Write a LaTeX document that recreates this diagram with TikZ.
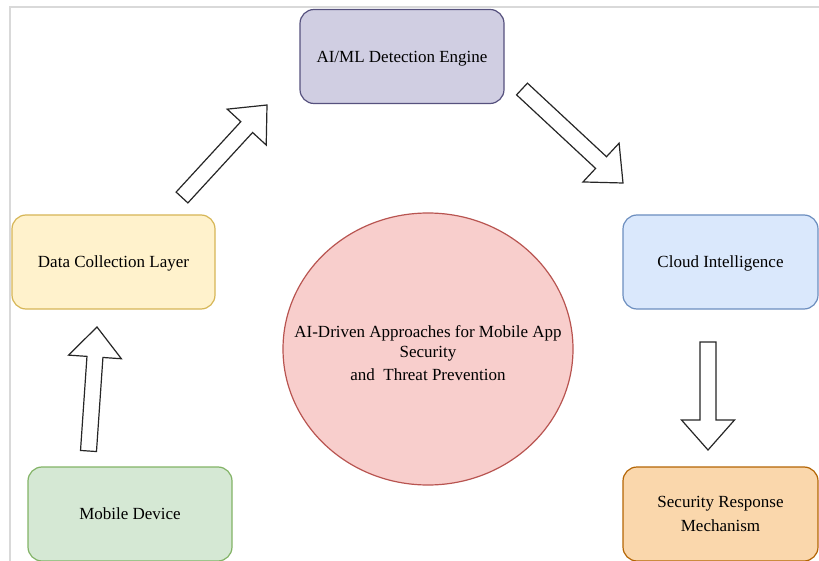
\documentclass[tikz,border=0pt]{standalone}
\usepackage{fontspec}
\setmainfont{Liberation Serif}
\usepackage{tikz}
\usetikzlibrary{calc}
\usetikzlibrary{shapes.geometric}

\definecolor{engineFill}{HTML}{D0CEE2}
\definecolor{engineDraw}{HTML}{56517E}
\definecolor{collectFill}{HTML}{FFF2CC}
\definecolor{collectDraw}{HTML}{D6B656}
\definecolor{cloudFill}{HTML}{DAE8FC}
\definecolor{cloudDraw}{HTML}{6C8EBF}
\definecolor{mobileFill}{HTML}{D5E8D4}
\definecolor{mobileDraw}{HTML}{82B366}
\definecolor{responseFill}{HTML}{FAD7AC}
\definecolor{responseDraw}{HTML}{B46504}
\definecolor{coreFill}{HTML}{F8CECC}
\definecolor{coreDraw}{HTML}{B85450}

% sizes of the hollow arrows
\def\ShaftHalf{8pt}
\def\HeadHalf{26.5pt}
\def\HeadLen{30pt}
\newcommand{\BlockArrow}[2]{%
\coordinate (hb) at ($(#2)!\HeadLen!(#1)$);
\draw[FatArrows] ($(#1)!\ShaftHalf!90:(#2)$) -- ($(hb)!\ShaftHalf!90:(#2)$)
 -- ($(hb)!\HeadHalf!90:(#2)$) -- (#2) -- ($(hb)!\HeadHalf!-90:(#2)$)
 -- ($(hb)!\ShaftHalf!-90:(#2)$) -- ($(#1)!\ShaftHalf!-90:(#2)$) -- cycle;
}

\begin{document}
\begin{tikzpicture}[
x=1pt,y=-1pt,
MyBoxes/.style={rounded corners=14pt,line width=1.2pt,minimum height=94pt,
  align=center,text depth=0pt,font=\fontsize{17}{24}\selectfont},
MyCircle/.style={ellipse,fill=coreFill,draw=coreDraw,line width=1.2pt,
  minimum width=290pt,minimum height=272pt,inner sep=0pt},
MyLabel/.style={align=center,font=\fontsize{17}{22}\selectfont},
FatArrows/.style={draw=black!85,fill=white,line width=1.2pt,line join=miter},
Frame/.style={draw=black!15,line width=1.3pt}
]
\useasboundingbox (0,0) rectangle (819,561);
\clip (0,0) rectangle (819,561);

\draw[Frame] (10,561) -- (10,7) -- (819,7);

\node[MyBoxes,fill=engineFill,draw=engineDraw,minimum width=204pt] (engine) at (402,56.5) {AI/ML Detection Engine};
\node[MyBoxes,fill=collectFill,draw=collectDraw,minimum width=203pt] (collect) at (113.5,262) {Data Collection Layer};
\node[MyBoxes,fill=cloudFill,draw=cloudDraw,minimum width=195pt] (cloud) at (720.5,262) {Cloud Intelligence};
\node[MyBoxes,fill=mobileFill,draw=mobileDraw,minimum width=204pt] (mobile) at (130,514) {Mobile Device};
\node[MyBoxes,fill=responseFill,draw=responseDraw,minimum width=195pt] (response) at (720.5,514) {Security Response\\Mechanism};

\node[MyCircle] (core) at (428,349) {};
\node[MyLabel] (coreText) at ([yshift=-4.5pt]core.center) {AI-Driven Approaches for Mobile App\\[-2pt]Security\\[1pt]and~~Threat Prevention};

% arrows: tail -> tip
\coordinate (upTail) at (88.5,451);
\coordinate (upTip) at (97,327);
\coordinate (neTail) at (182,197.5);
\coordinate (neTip) at (267,105);
\coordinate (seTail) at (522,89);
\coordinate (seTip) at (623,183);
\coordinate (dnTail) at (708,342);
\coordinate (dnTip) at (708,450);

\BlockArrow{upTail}{upTip}
\BlockArrow{neTail}{neTip}
\BlockArrow{seTail}{seTip}
\BlockArrow{dnTail}{dnTip}

\end{tikzpicture}
\end{document}
